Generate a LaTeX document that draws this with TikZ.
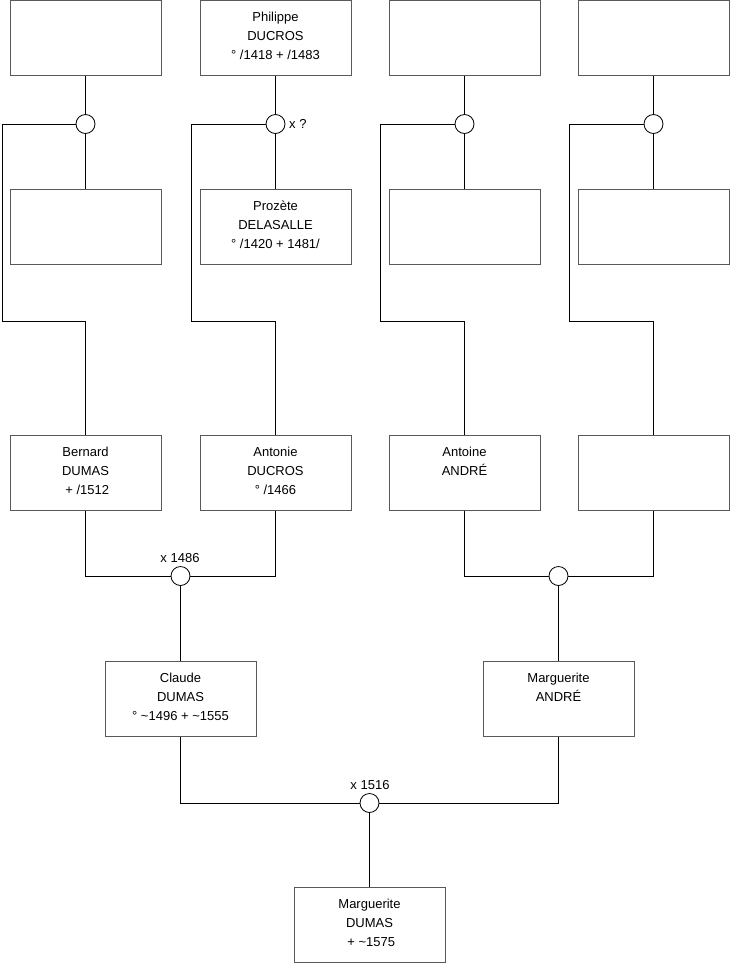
\documentclass[tikz,border=0pt]{standalone}
\usepackage{fontspec}
\setmainfont{Liberation Sans}
\begin{document}
\begin{tikzpicture}[x=1pt,y=-1pt,
  person/.style={draw=black!65,line width=1pt,minimum width=151pt,minimum height=75pt,inner sep=0pt,fill=white},
  txt/.style={anchor=north,inner sep=0pt,align=center,font=\fontsize{13}{19}\selectfont},
  lbl/.style={inner sep=0pt,font=\fontsize{13}{15}\selectfont},
  wed/.style={draw=black,circle,minimum size=19pt,inner sep=0pt,line width=0.8pt,fill=white},
  link/.style={draw=black,line width=0.8pt}]
\useasboundingbox (0,0) rectangle (740,975);
% top row
\node[person] (t1) at (85.5,37.5) {};
\node[person] (t2) at (275.5,37.5) {};
\node[person] (t3) at (464.5,37.5) {};
\node[person] (t4) at (653.5,37.5) {};
% second row
\node[person] (m1) at (85.5,227) {};
\node[person] (m2) at (275.5,227) {};
\node[person] (m3) at (464.5,227) {};
\node[person] (m4) at (653.5,227) {};
% third row
\node[person] (b1) at (85.5,472.5) {};
\node[person] (b2) at (275.5,472.5) {};
\node[person] (b3) at (464.5,472.5) {};
\node[person] (b4) at (653.5,472.5) {};
% fourth row
\node[person] (cl) at (180.5,699) {};
\node[person] (ma) at (558.5,699) {};
% bottom
\node[person] (md) at (369.5,924.5) {};
% texts
\node[txt] (t2t) at ([yshift=-12pt]t2.north) {Philippe\\DUCROS\\° /1418 + /1483};
\node[txt] (m2t) at ([yshift=-12pt]m2.north) {Prozète\\DELASALLE\\° /1420 + 1481/};
\node[txt] (b1t) at ([yshift=-12pt]b1.north) {Bernard\\DUMAS\\\ + /1512};
\node[txt] (b2t) at ([yshift=-12pt]b2.north) {Antonie\\DUCROS\\° /1466};
\node[txt] (b3t) at ([yshift=-12pt]b3.north) {Antoine\\ANDRÉ};
\node[txt] (clt) at ([yshift=-12pt]cl.north) {Claude\\DUMAS\\° \textasciitilde1496 + \textasciitilde1555};
\node[txt] (mat) at ([yshift=-12pt]ma.north) {Marguerite\\ANDRÉ};
\node[txt] (mdt) at ([yshift=-12pt]md.north) {Marguerite\\DUMAS\\\ + \textasciitilde1575};
% marriage circles
\node[wed] (c1) at (85.5,124) {};
\node[wed] (c2) at (275.5,124) {};
\node[wed] (c3) at (464.5,124) {};
\node[wed] (c4) at (653.5,124) {};
\node[wed] (w1) at (180.5,576) {};
\node[wed] (w2) at (558.5,576) {};
\node[wed] (w3) at (369.5,803) {};
% labels
\node[lbl,anchor=west] (l2) at (289,124) {x ?};
\node[lbl] (lw1) at (180,558) {x 1486};
\node[lbl] (lw3) at (370,785) {x 1516};
% corner coordinates
\coordinate (k1) at (2,321);
\coordinate (k2) at (191,321);
\coordinate (k3) at (380,321);
\coordinate (k4) at (569,321);
% top connectors
\foreach \i in {1,2,3,4}{
  \draw[link] (t\i.south) -- (c\i.north);
  \draw[link] (c\i.south) -- (m\i.north);
  \draw[link] (c\i.west) -| (k\i) -| (b\i.north);
}
% lower connectors
\draw[link] (b1.south) |- (w1.west);
\draw[link] (w1.east) -| (b2.south);
\draw[link] (w1.south) -- (cl.north);
\draw[link] (b3.south) |- (w2.west);
\draw[link] (w2.east) -| (b4.south);
\draw[link] (w2.south) -- (ma.north);
\draw[link] (cl.south) |- (w3.west);
\draw[link] (w3.east) -| (ma.south);
\draw[link] (w3.south) -- (md.north);
\end{tikzpicture}
\end{document}
